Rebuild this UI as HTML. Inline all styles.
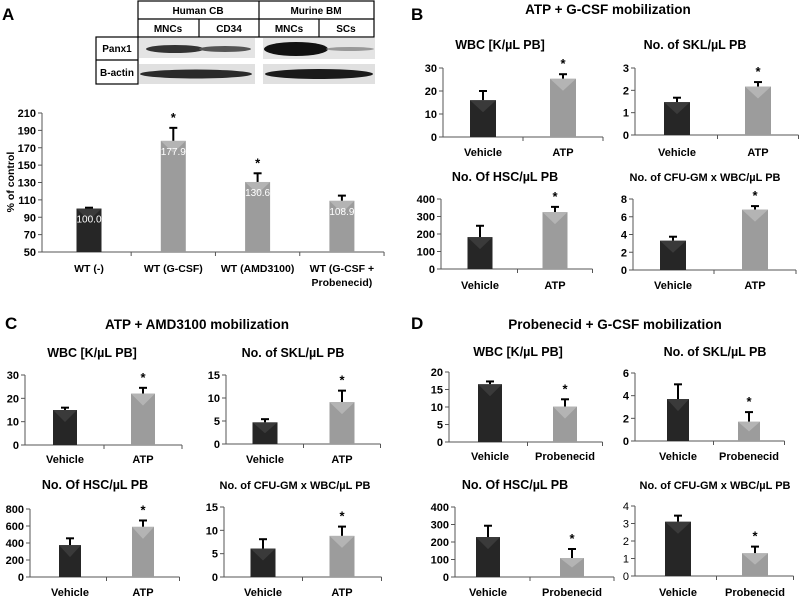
<!DOCTYPE html>
<html><head><meta charset="utf-8">
<style>
html,body{margin:0;padding:0;background:#fff;}
svg{display:block;font-family:"Liberation Sans",sans-serif;}
.b{font-weight:bold;}
</style></head>
<body>
<svg id="fig" width="800" height="597" viewBox="0 0 800 597" xmlns="http://www.w3.org/2000/svg">
  <!-- Western blot panel A -->
  <g stroke="#000" stroke-width="1.2" fill="none">
    <rect x="138" y="1" width="236" height="36"/>
    <line x1="138" y1="19" x2="374" y2="19"/>
    <line x1="259" y1="1" x2="259" y2="37"/>
    <line x1="199" y1="19" x2="199" y2="37"/>
    <line x1="319" y1="19" x2="319" y2="37"/>
    <rect x="96" y="37" width="42" height="47"/>
    <line x1="96" y1="60" x2="138" y2="60"/>
  </g>
  <g>
    <rect x="139" y="38" width="116" height="20" fill="#e4e4e4"/>
    <rect x="139" y="64" width="116" height="20" fill="#e0e0e0"/>
    <rect x="263" y="38" width="112" height="21" fill="#e4e4e4"/>
    <rect x="263" y="64" width="112" height="20" fill="#e0e0e0"/>
    <ellipse cx="175" cy="49" rx="29" ry="4" fill="#333"/>
    <ellipse cx="225" cy="49" rx="26" ry="3" fill="#555"/>
    <ellipse cx="296" cy="49" rx="32" ry="7" fill="#111"/>
    <ellipse cx="350" cy="49" rx="24" ry="2" fill="#999"/>
    <ellipse cx="196" cy="74" rx="56" ry="4.5" fill="#2a2a2a"/>
    <ellipse cx="319" cy="74" rx="54" ry="5" fill="#1a1a1a"/>
  </g>
  <g class="b" font-size="10" text-anchor="middle" fill="#000">
    <text x="198" y="14">Human CB</text>
    <text x="316" y="14">Murine BM</text>
    <text x="168" y="32">MNCs</text>
    <text x="229" y="32">CD34</text>
    <text x="289" y="32">MNCs</text>
    <text x="346" y="32">SCs</text>
    <text x="117" y="52">Panx1</text>
    <text x="117" y="76">B-actin</text>
  </g>
  <g class="b" font-size="17" fill="#000">
    <text x="2" y="20">A</text>
    <text x="411" y="20">B</text>
    <text x="5" y="329">C</text>
    <text x="411" y="329">D</text>
  </g>
  <g class="b" font-size="13.5" text-anchor="middle" fill="#000">
    <text x="608" y="14">ATP + G-CSF mobilization</text>
    <text x="197" y="329">ATP + AMD3100 mobilization</text>
    <text x="615" y="329">Probenecid + G-CSF mobilization</text>
  </g>
  <text transform="translate(14,182) rotate(-90)" text-anchor="middle" class="b" font-size="10.5">% of control</text>
  <g id="charts"></g>
</svg>
<script>
// Panel A
const aCategories = ["WT (-)", "WT (G-CSF)", "WT (AMD3100)", "WT (G-CSF +|Probenecid)"];
const aValues = [100.0, 177.9, 130.6, 108.9];
const aErrors = [1, 15, 10, 6];
const aStars = [false, true, true, false];
const aTicks = [50, 70, 90, 110, 130, 150, 170, 190, 210];
// Two-group categories
const atpCategories = ["Vehicle", "ATP"];
const probCategories = ["Vehicle", "Probenecid"];
// Panel B
const b1Values = [16, 25.3]; const b1Errors = [4, 2]; const b1Ticks = [0, 10, 20, 30];
const b2Values = [1.47, 2.17]; const b2Errors = [0.2, 0.2]; const b2Ticks = [0, 1, 2, 3];
const b3Values = [182, 325]; const b3Errors = [65, 30]; const b3Ticks = [0, 100, 200, 300, 400];
const b4Values = [3.3, 6.8]; const b4Errors = [0.45, 0.4]; const b4Ticks = [0, 2, 4, 6, 8];
// Panel C
const c1Values = [15, 22]; const c1Errors = [1, 2.5]; const c1Ticks = [0, 10, 20, 30];
const c2Values = [4.7, 9.1]; const c2Errors = [0.7, 2.5]; const c2Ticks = [0, 5, 10, 15];
const c3Values = [375, 590]; const c3Errors = [80, 75]; const c3Ticks = [0, 200, 400, 600, 800];
const c4Values = [6.1, 8.8]; const c4Errors = [2, 2]; const c4Ticks = [0, 5, 10, 15];
// Panel D
const d1Values = [16.5, 10.1]; const d1Errors = [0.8, 2.1]; const d1Ticks = [0, 5, 10, 15, 20];
const d2Values = [3.7, 1.7]; const d2Errors = [1.3, 0.85]; const d2Ticks = [0, 2, 4, 6];
const d3Values = [228, 108]; const d3Errors = [65, 52]; const d3Ticks = [0, 100, 200, 300, 400];
const d4Values = [3.1, 1.3]; const d4Errors = [0.35, 0.38]; const d4Ticks = [0, 1, 2, 3, 4];
const twoStars = [false, true];

const NS = "http://www.w3.org/2000/svg";
const root = document.getElementById("charts");
function mk(tag, attrs, parent) {
  const e = document.createElementNS(NS, tag);
  for (const k in attrs) e.setAttribute(k, attrs[k]);
  parent.appendChild(e);
  return e;
}

function chart(cfg) {
  const g = mk("g", {}, root);
  
  
  const tmin = cfg.ticks[0], tmax = cfg.ticks[cfg.ticks.length - 1];
  const yScale = v => cfg.y0 - (v - tmin) / (tmax - tmin) * (cfg.y0 - cfg.y1);
  const n = cfg.cats.length;
  const xCenter = i => cfg.c0 + i * cfg.step;
  const xEnd = cfg.c0 + (n - 0.5) * cfg.step;
  if (cfg.title) {
    const t = mk("text", {x: cfg.tx, y: cfg.ty, "text-anchor": "middle", "font-weight": "bold", "font-size": cfg.tfs || 12.5}, g);
    t.textContent = cfg.title;
    
    
  }
  // axes
  const ya = mk("line", {x1: cfg.x0, y1: cfg.y1, x2: cfg.x0, y2: cfg.y0, stroke: "#555", "stroke-width": 1}, g);
  
  
  const xa = mk("line", {x1: cfg.x0, y1: cfg.y0, x2: xEnd, y2: cfg.y0, stroke: "#555", "stroke-width": 1}, g);
  
  
  cfg.ticks.forEach(tv => {
    const y = yScale(tv);
    mk("line", {x1: cfg.x0 - 4, y1: y, x2: cfg.x0, y2: y, stroke: "#555"}, g);
    const tl = mk("text", {x: cfg.x0 - 6, y: y + 4, "text-anchor": "end", "font-weight": cfg.tickBold === false ? "normal" : "bold", "font-size": cfg.tfsTick || 11}, g);
    tl.textContent = tv;
    
    
  });
  for (let i = 0; i <= n; i++) {
    const x = cfg.c0 + (i - 0.5) * cfg.step;
    if (i === 0) continue;
    mk("line", {x1: x, y1: cfg.y0, x2: x, y2: cfg.y0 + 4, stroke: "#555"}, g);
  }
  cfg.cats.forEach((c, i) => {
    const cx = xCenter(i);
    const v = cfg.values[i];
    const top = yScale(v), bw = cfg.bw;
    const dark = cfg.dark ? cfg.dark(i) : i === 0;
    // error bar
    const ey = yScale(v + cfg.errors[i]);
    const eb = mk("g", {stroke: "#000", "stroke-width": 2}, g);
    
    
    mk("line", {x1: cx, y1: top, x2: cx, y2: ey}, eb);
    mk("line", {x1: cx - 4, y1: ey, x2: cx + 4, y2: ey}, eb);
    const bar = mk("rect", {x: cx - bw / 2, y: top, width: bw, height: cfg.y0 - top, fill: dark ? "#262626" : "#9c9c9c"}, g);
    
    
    mk("polygon", {points: `${cx - bw / 2},${top} ${cx + bw / 2},${top} ${cx},${top + Math.min(12, (cfg.y0 - top) / 2)}`, fill: dark ? "#3a3a3a" : "#b4b4b4"}, g);
    if (cfg.showVals) {
      const vt = mk("text", {x: cx, y: top + 14, "text-anchor": "middle", fill: "#fff", "font-size": 10}, g);
      vt.textContent = v.toFixed(1);
      
      
    }
    if (cfg.stars[i]) {
      const st = mk("text", {x: cx, y: ey - 6, "text-anchor": "middle", "font-weight": "bold", "font-size": 13}, g);
      st.textContent = "*";
      
      
    }
    const lines = c.split("|");
    lines.forEach((ln, k) => {
      const lt = mk("text", {x: cx, y: cfg.ly + k * 14, "text-anchor": "middle", "font-weight": "bold", "font-size": cfg.lfs || 11}, g);
      lt.textContent = ln;
      
      
    });
  });
}

chart({name: "panel-a-chart", cats: aCategories, values: aValues, errors: aErrors, stars: aStars, ticks: aTicks,
  x0: 42, y0: 252, y1: 113, c0: 89, step: 84.3, bw: 25, ly: 272, showVals: true, lfs: 10.5, dark: i => i === 0});

chart({name: "b-wbc-chart", title: "WBC [K/µL PB]", tx: 500, ty: 49, cats: atpCategories, values: b1Values, errors: b1Errors, stars: twoStars, ticks: b1Ticks, x0: 443, y0: 137, y1: 68, c0: 483, step: 80, bw: 26, ly: 156});
chart({name: "b-skl-chart", title: "No. of SKL/µL PB", tx: 695, ty: 49, cats: atpCategories, values: b2Values, errors: b2Errors, stars: twoStars, ticks: b2Ticks, x0: 635, y0: 135, y1: 68, c0: 677, step: 81, bw: 26, ly: 156});
chart({name: "b-hsc-chart", title: "No. Of HSC/µL PB", tx: 505, ty: 181, cats: atpCategories, values: b3Values, errors: b3Errors, stars: twoStars, ticks: b3Ticks, x0: 441, y0: 269, y1: 199, c0: 480, step: 75, bw: 25, ly: 289});
chart({name: "b-cfu-chart", title: "No. of CFU-GM x WBC/µL PB", tx: 705, ty: 181, tfs: 11, cats: atpCategories, values: b4Values, errors: b4Errors, stars: twoStars, ticks: b4Ticks, x0: 633, y0: 270, y1: 199, c0: 673, step: 82, bw: 26, ly: 289});

chart({name: "c-wbc-chart", title: "WBC [K/µL PB]", tx: 92, ty: 357, cats: atpCategories, values: c1Values, errors: c1Errors, stars: twoStars, ticks: c1Ticks, x0: 25, y0: 445, y1: 375, c0: 65, step: 78, bw: 24, ly: 463});
chart({name: "c-skl-chart", title: "No. of SKL/µL PB", tx: 293, ty: 357, cats: atpCategories, values: c2Values, errors: c2Errors, stars: twoStars, ticks: c2Ticks, x0: 226, y0: 444, y1: 375, c0: 265, step: 77, bw: 25, ly: 463});
chart({name: "c-hsc-chart", title: "No. Of HSC/µL PB", tx: 95, ty: 489, cats: atpCategories, values: c3Values, errors: c3Errors, stars: twoStars, ticks: c3Ticks, x0: 30, y0: 577, y1: 509, c0: 70, step: 73, bw: 22, ly: 596});
chart({name: "c-cfu-chart", title: "No. of CFU-GM x WBC/µL PB", tx: 295, ty: 489, tfs: 11, cats: atpCategories, values: c4Values, errors: c4Errors, stars: twoStars, ticks: c4Ticks, x0: 224, y0: 577, y1: 507, c0: 263, step: 79, bw: 25, ly: 596});

chart({name: "d-wbc-chart", title: "WBC [K/µL PB]", tx: 518, ty: 356, cats: probCategories, values: d1Values, errors: d1Errors, stars: twoStars, ticks: d1Ticks, x0: 449, y0: 442, y1: 372, c0: 490, step: 75, bw: 24, ly: 460});
chart({name: "d-skl-chart", title: "No. of SKL/µL PB", tx: 715, ty: 356, cats: probCategories, values: d2Values, errors: d2Errors, stars: twoStars, ticks: d2Ticks, x0: 635, y0: 441, y1: 373, c0: 678, step: 71, bw: 22, ly: 460});
chart({name: "d-hsc-chart", title: "No. Of HSC/µL PB", tx: 515, ty: 489, cats: probCategories, values: d3Values, errors: d3Errors, stars: twoStars, ticks: d3Ticks, x0: 455, y0: 577, y1: 507, c0: 488, step: 84, bw: 24, ly: 596});
chart({name: "d-cfu-chart", title: "No. of CFU-GM x WBC/µL PB", tx: 715, ty: 489, tfs: 11, cats: probCategories, values: d4Values, errors: d4Errors, stars: twoStars, ticks: d4Ticks, x0: 635, y0: 576, y1: 506, c0: 678, step: 77, bw: 26, ly: 596, tickBold: false});
</script>
</body></html>
